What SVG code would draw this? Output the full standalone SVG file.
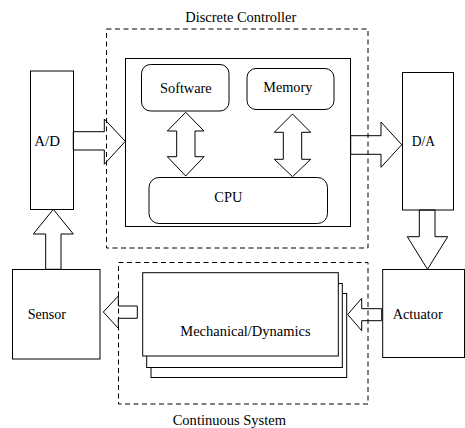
<svg xmlns="http://www.w3.org/2000/svg" width="465" height="428" viewBox="0 0 465 428" font-family="'Liberation Serif', 'DejaVu Serif', serif">
<style>
.t{font-size:14.5px;fill:#000}
.box{fill:#fff;stroke:#000;stroke-width:1}
.dash{fill:none;stroke:#000;stroke-width:1;stroke-dasharray:5,3.5}
.arr{fill:none;stroke:#000;stroke-width:1;stroke-linejoin:miter}
</style>
<rect width="465" height="428" fill="#fff"/>
<g id="discrete-controller">
<rect class="box" x="125.5" y="58.5" width="225" height="168"/>
</g>
<g id="software"><rect class="box" x="141.5" y="64.5" width="87.5" height="46.5" rx="9"/><text class="t" x="160" y="93" textLength="51.7" lengthAdjust="spacingAndGlyphs">Software</text></g>
<g id="memory"><rect class="box" x="247" y="68.5" width="87" height="41" rx="9"/><text class="t" x="263.3" y="91.5" textLength="49" lengthAdjust="spacingAndGlyphs">Memory</text></g>
<g id="cpu"><rect class="box" x="149" y="177.5" width="178.5" height="46" rx="10"/><text class="t" x="214.3" y="202" textLength="28" lengthAdjust="spacingAndGlyphs">CPU</text></g>
<g id="ad"><rect class="box" x="30.5" y="71" width="43" height="138.5"/><text class="t" x="34.3" y="145.7" textLength="25.7" lengthAdjust="spacingAndGlyphs">A/D</text></g>
<g id="da"><rect class="box" x="402.5" y="72.5" width="51" height="137.5"/><text class="t" x="411.7" y="145.7" textLength="23.3" lengthAdjust="spacingAndGlyphs">D/A</text></g>
<g id="sensor"><rect class="box" x="12.5" y="269.5" width="87.5" height="89.5"/><text class="t" x="27.7" y="319" textLength="38.3" lengthAdjust="spacingAndGlyphs">Sensor</text></g>
<g id="actuator"><rect class="box" x="382.7" y="269.5" width="81.8" height="88"/><text class="t" x="392.7" y="319" textLength="50" lengthAdjust="spacingAndGlyphs">Actuator</text></g>
<g id="mechanical">
<rect class="box" x="151" y="293.5" width="195.7" height="84"/>
<rect class="box" x="146.7" y="283.5" width="195.6" height="84"/>
<rect class="box" x="142.7" y="272.7" width="195.6" height="83.3"/>
<text class="t" x="180.3" y="336" textLength="130.3" lengthAdjust="spacingAndGlyphs">Mechanical/Dynamics</text>
</g>
<g id="connectors">
<polygon class="arr" points="73.3,131.7 104.3,131.7 104.3,119 125.3,141.3 104.3,164.3 104.3,150 73.3,150"/>
<polygon class="arr" points="350.7,135.7 381,135.7 381,122 401.7,144.7 381,167.3 381,154.3 350.7,154.3"/>
<polygon class="arr" points="185.7,112.3 204,131 195,131 195,156.7 204,156.7 185.7,176 167.3,156.7 176.7,156.7 176.7,131 167.3,131"/>
<polygon class="arr" points="292.5,114 310.7,132.3 301.7,132.3 301.7,159.3 310.7,159.3 292.5,176.7 274.3,159.3 283.3,159.3 283.3,132.3 274.3,132.3"/>
<polygon class="arr" points="53.3,209.3 73.3,234 61,234 61,269.3 45.7,269.3 45.7,234 33.3,234"/>
<polygon class="arr" points="419.3,210 435,210 435,236.7 447.7,236.7 427.5,269.3 407.3,236.7 419.3,236.7"/>
<polygon class="arr" points="137.3,306 118.3,306 118.3,296 103.3,312 118.3,328.3 118.3,318.3 137.3,318.3"/>
<polygon class="arr" points="381.7,308.7 361.7,308.7 361.7,298.3 347.7,314.5 361.7,330.7 361.7,320.7 381.7,320.7"/>
</g>
<g id="discrete-controller-frame">
<rect class="dash" x="106.5" y="29" width="261.5" height="219"/>
<text class="t" x="185.3" y="21.7" textLength="111" lengthAdjust="spacingAndGlyphs">Discrete Controller</text>
</g>
<g id="continuous-system-frame">
<rect class="dash" x="118.5" y="262.5" width="249.5" height="141.5"/>
<text class="t" x="172.7" y="425" textLength="113.3" lengthAdjust="spacingAndGlyphs">Continuous System</text>
</g>
</svg>
